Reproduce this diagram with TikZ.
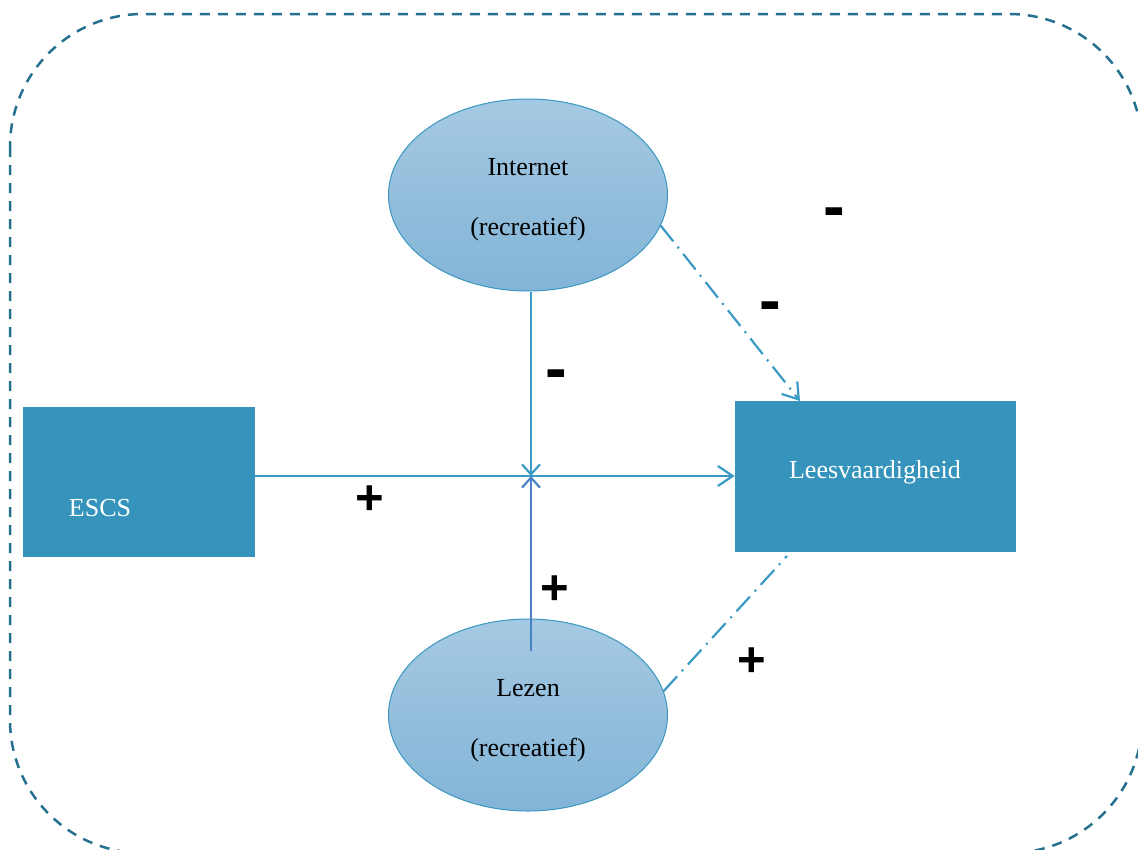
\documentclass[tikz,border=0pt]{standalone}
\usepackage{fontspec}
\setmainfont{Liberation Serif}
\newfontfamily\signfont{Liberation Sans}
\usetikzlibrary{arrows.meta,shapes.geometric}

\definecolor{boxblue}{HTML}{3694BC}
\definecolor{linkblue}{HTML}{3A9AC4}
\definecolor{lezblue}{HTML}{4A82C4}
\definecolor{ovaltop}{HTML}{A5C9E2}
\definecolor{ovalbot}{HTML}{82B4D7}
\definecolor{ovalline}{HTML}{3B97C0}
\definecolor{frameblue}{HTML}{26708F}

\begin{document}
\begin{tikzpicture}[x = 1pt, y = -1pt,
  oval/.style = {ellipse, draw = ovalline, line width = 1pt, top color = ovaltop, bottom color = ovalbot,
    minimum width = 279pt, minimum height = 192pt, inner sep = 0pt},
  factor/.style = {rectangle, fill = boxblue, inner sep = 0pt},
  lbl/.style = {font = \fontsize{26}{30}\selectfont},
  link/.style = {draw = linkblue, line width = 2.2pt, -{Straight Barb[length = 15pt, width = 20pt, line width = 2.2pt]}},
  meet/.style = {draw = linkblue, line width = 2.2pt, -{Straight Barb[length = 10pt, width = 18pt, line width = 2.2pt]}},
  dashdot/.style = {dash pattern = on 20pt off 7pt on 2pt off 7pt},
  sign/.style = {font = \signfont\bfseries\fontsize{#1}{#1}\selectfont, inner sep = 0pt}]
\path[use as bounding box, clip] (0, 0) rectangle (1138, 849);
\draw[frameblue, line width = 2.5pt, dash pattern = on 10pt off 8pt, rounded corners = 133pt] (10, 14) rectangle (1142, 853);
\node[oval] (inet) at (528, 195){};
\node[oval] (lez) at (528, 715){};
\node[factor, minimum width = 232pt, minimum height = 150pt] (escs) at (139, 482){};
\node[factor, minimum width = 281pt, minimum height = 151pt] (lees) at (875.5, 476.5){};
\node[lbl] (inetlbl) at (528, 167){Internet};
\node[lbl] (inetsub) at (528, 229){(recreatief)};
\node[lbl] (lezlbl) at (528, 688){Lezen};
\node[lbl] (lezsub) at (528, 750){(recreatief)};
\node[lbl, white] (escslbl) at (100, 508){ESCS};
\node[lbl, white] (leeslbl) at (875, 472){Leesvaardigheid};
\coordinate (cross) at (531, 476);
\coordinate (lezin) at (531, 651);
\coordinate (leestop) at (800, 401);
\coordinate (leesbot) at (787, 556);
\draw[link] (escs.east |- cross) -- (lees.west |- cross);
\draw[meet] (inet.south -| cross) -- (cross);
\draw[meet, draw = lezblue] (lezin) -- (cross);
\draw[link, dashdot] (inet.-13) -- (leestop);
\draw[draw = linkblue, line width = 2.2pt, dashdot] (lez.10) -- (leesbot);
\node[sign = 65] (min1) at (834, 218){-};
\node[sign = 65] (min2) at (770, 312){-};
\node[sign = 65] (min3) at (556, 380){-};
\node[sign = 49] (plus1) at (370, 500){+};
\node[sign = 49] (plus2) at (555, 590){+};
\node[sign = 49] (plus3) at (752, 662){+};
\end{tikzpicture}
\end{document}
